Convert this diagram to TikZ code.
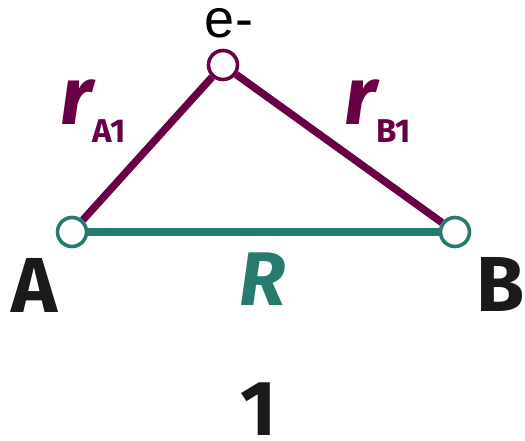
\documentclass[tikz,border=0pt]{standalone}
\usepackage{fontspec}
\setmainfont{Fira Sans}
\newfontfamily\elfont{Liberation Sans}
\usepackage{xcolor}
\usepackage{tikz}
\usetikzlibrary{
  arrows.meta,
  positioning,
  calc
}
\definecolor{trBond}{HTML}{690044}
\definecolor{trNuc}{HTML}{267A6E}
\definecolor{trInk}{HTML}{1A1A1A}
\newcommand{\subtxt}[1]{\raisebox{-18pt}{\fontsize{33}{34}\selectfont\bfseries\upshape #1}}
\tikzset{
  site/.style={
    draw, circle, fill=white, line width=3.6pt, minimum size=29pt, inner sep=0pt
  },
  nucsite/.style={site, draw=trNuc},
  elsite/.style={site, draw=trBond},
  bondline/.style={line width=7.5pt, trBond},
  nucline/.style={line width=7.5pt, trNuc},
  biglabel/.style={font=\fontsize{78}{80}\selectfont\bfseries, text=trInk, inner sep=0pt},
  distlabel/.style={font=\fontsize{82}{84}\selectfont\bfseries\itshape, inner sep=0pt, anchor=base west}
}

\begin{document}
\begin{tikzpicture}[x=1pt,y=-1pt]
  \useasboundingbox (0,0) rectangle (525,441);
  % nuclei and electron
  \node[nucsite] (A) at (72,232) {};
  \node[nucsite] (B) at (455,232) {};
  \node[elsite] (e) at (223,65) {};
  \draw[nucline] (A) -- (B);
  \draw[bondline] (A) -- (e);
  \draw[bondline] (e) -- (B);
  % labels
  \node[font=\fontsize{54}{56}\selectfont\elfont, inner sep=0pt] (elab) at (229,23) {e-};
  \node[distlabel, text=trBond] (rA) at (60,125) {r\subtxt{A1}};
  \node[distlabel, text=trBond] (rB) at (344,125) {r\subtxt{B1}};
  \node[biglabel] (Alab) at (35,285) {A};
  \node[biglabel] (Blab) at (501,284) {B};
  \node[biglabel, text=trNuc, font=\fontsize{76}{78}\selectfont\bfseries\itshape] (Rlab) at (263,279) {R};
  \node[biglabel] (num) at (259,409) {1};
\end{tikzpicture}
\end{document}
